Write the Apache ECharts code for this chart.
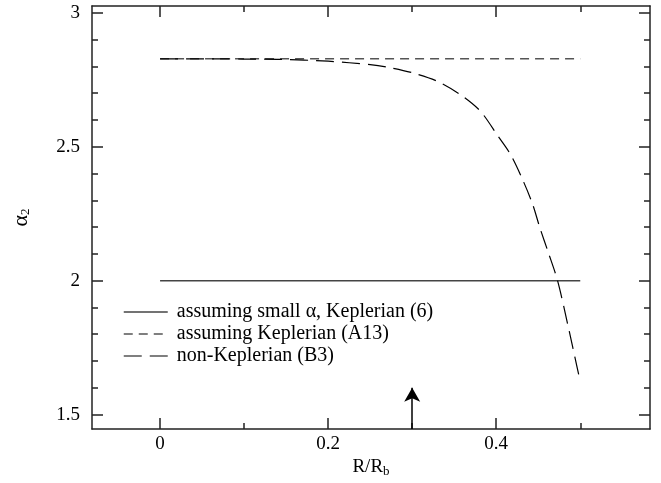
<!DOCTYPE html>
<html>
<head>
<meta charset="utf-8">
<script src="https://cdn.jsdelivr.net/npm/echarts@6/dist/echarts.min.js"></script>
<style>
html,body{margin:0;padding:0;background:#fff;}
#chart{width:661px;height:483px;}
</style>
</head>
<body>
<div id="chart"></div>
<script>
// ---- data ----
var seriesNames = ['assuming small \u03b1, Keplerian (6)', 'assuming Keplerian (A13)', 'non-Keplerian (B3)'];
var smallAlphaR = [0, 0.5];
var smallAlphaVal = [2, 2];
var keplerR = [0, 0.5];
var keplerVal = [2.828, 2.828];
var nonKepR = [0, 0.05, 0.1, 0.143, 0.2, 0.25, 0.27, 0.3, 0.33, 0.357, 0.381, 0.402, 0.417, 0.431, 0.443, 0.452, 0.462, 0.473, 0.485, 0.496, 0.5];
var nonKepVal = [2.828, 2.828, 2.827, 2.826, 2.819, 2.806, 2.797, 2.776, 2.744, 2.695, 2.633, 2.54, 2.471, 2.38, 2.288, 2.197, 2.105, 2.0, 1.838, 1.68, 1.625];
var arrowR = [0.3, 0.3];
var arrowVal = [1.446, 1.6];
var xMajorTicks = [0, 0.2, 0.4];
var xMinorTicks = [0.1, 0.3, 0.5];
var yMajorTicks = [1.5, 2, 2.5, 3];
var yMinorTicks = [1.6, 1.7, 1.8, 1.9, 2.1, 2.2, 2.3, 2.4, 2.6, 2.7, 2.8, 2.9];
var xRange = [-0.081, 0.583];
var yRange = [1.446, 3.025];

function zip(a, b) { return a.map(function (v, i) { return [v, b[i]]; }); }

var FONT = 'Liberation Serif';
var AX = '#222';

var styleSolid = { color: '#444', width: 1.5, type: 'solid' };
var styleShortDash = { color: '#555', width: 1.5, type: [9, 6] };
var styleLongDash = { color: '#000', width: 1.2, type: [18, 8] };

function xAxisDef(pos, ticks, len, showLine, showLabel) {
  return {
    type: 'value', position: pos, min: xRange[0], max: xRange[1],
    axisLine: { show: showLine, onZero: false, lineStyle: { color: AX, width: 1.5 } },
    axisTick: { show: true, inside: true, length: len, customValues: ticks, lineStyle: { color: AX, width: 1.5 } },
    axisLabel: showLabel ? { show: true, customValues: ticks, color: '#000', fontFamily: FONT, fontSize: 19, margin: 5 } : { show: false },
    splitLine: { show: false }
  };
}
function yAxisDef(pos, ticks, len, showLine, showLabel) {
  return {
    type: 'value', position: pos, min: yRange[0], max: yRange[1],
    axisLine: { show: showLine, onZero: false, lineStyle: { color: AX, width: 1.5 } },
    axisTick: { show: true, inside: true, length: len, customValues: ticks, lineStyle: { color: AX, width: 1.5 } },
    axisLabel: showLabel ? { show: true, customValues: ticks, color: '#000', fontFamily: FONT, fontSize: 19, margin: 12 } : { show: false },
    splitLine: { show: false }
  };
}

var xAxes = [
  xAxisDef('bottom', xMajorTicks, 11, true, true),
  xAxisDef('bottom', xMinorTicks, 6, false, false),
  xAxisDef('top', xMajorTicks, 11, true, false),
  xAxisDef('top', xMinorTicks, 6, false, false)
];
xAxes[0].name = 'R/R{sub|b}';
xAxes[0].nameLocation = 'middle';
xAxes[0].nameGap = 24;
xAxes[0].nameTextStyle = { color: '#000', fontFamily: FONT, fontSize: 19, rich: { sub: { fontFamily: FONT, fontSize: 13, verticalAlign: 'bottom', padding: [8, 0, 0, 0] } } };

var yAxes = [
  yAxisDef('left', yMajorTicks, 11, true, true),
  yAxisDef('left', yMinorTicks, 6, false, false),
  yAxisDef('right', yMajorTicks, 11, true, false),
  yAxisDef('right', yMinorTicks, 6, false, false)
];
yAxes[0].name = '\u03b1{sub|2}';
yAxes[0].nameLocation = 'middle';
yAxes[0].nameRotate = 90;
yAxes[0].nameGap = 60;
yAxes[0].nameTextStyle = { color: '#000', fontFamily: FONT, fontSize: 22, rich: { sub: { fontFamily: FONT, fontSize: 13, verticalAlign: 'bottom', padding: [8, 0, 0, 0] } } };

var chart = echarts.init(document.getElementById('chart'), null, { renderer: 'canvas' });
chart.setOption({
  animation: false,
  backgroundColor: '#fff',
  grid: { left: 92, right: 11, top: 6, bottom: 46, containLabel: false },
  xAxis: xAxes,
  yAxis: yAxes,
  legend: {
    data: [
      { name: seriesNames[0], itemStyle: { opacity: 0 }, lineStyle: styleSolid },
      { name: seriesNames[1], itemStyle: { opacity: 0 }, lineStyle: styleShortDash },
      { name: seriesNames[2], itemStyle: { opacity: 0 }, lineStyle: styleLongDash }
    ],
    orient: 'vertical',
    left: 118, top: 297,
    itemWidth: 44, itemHeight: 12, itemGap: 2,
    itemStyle: { opacity: 0 },
    textStyle: { color: '#000', fontFamily: FONT, fontSize: 20, lineHeight: 20, padding: [0, 0, 0, 4] }
  },
  series: [
    { name: seriesNames[0], type: 'line', symbol: 'none', data: zip(smallAlphaR, smallAlphaVal),
      lineStyle: styleSolid, itemStyle: { color: '#444' } },
    { name: seriesNames[1], type: 'line', symbol: 'none', data: zip(keplerR, keplerVal),
      lineStyle: styleShortDash, itemStyle: { color: '#555' } },
    { name: seriesNames[2], type: 'line', symbol: 'none', smooth: 0.3, data: zip(nonKepR, nonKepVal),
      lineStyle: styleLongDash, itemStyle: { color: '#000' } },
    { name: 'arrow', type: 'line', symbol: 'none', data: [],
      markLine: { silent: true, symbol: ['none', 'arrow'], symbolSize: [12, 14], label: { show: false },
        lineStyle: { color: '#000', width: 1.5, type: 'solid' },
        data: [[{ coord: [arrowR[0], arrowVal[0]] }, { coord: [arrowR[1], arrowVal[1]] }]] } }
  ]
});
</script>
</body>
</html>
